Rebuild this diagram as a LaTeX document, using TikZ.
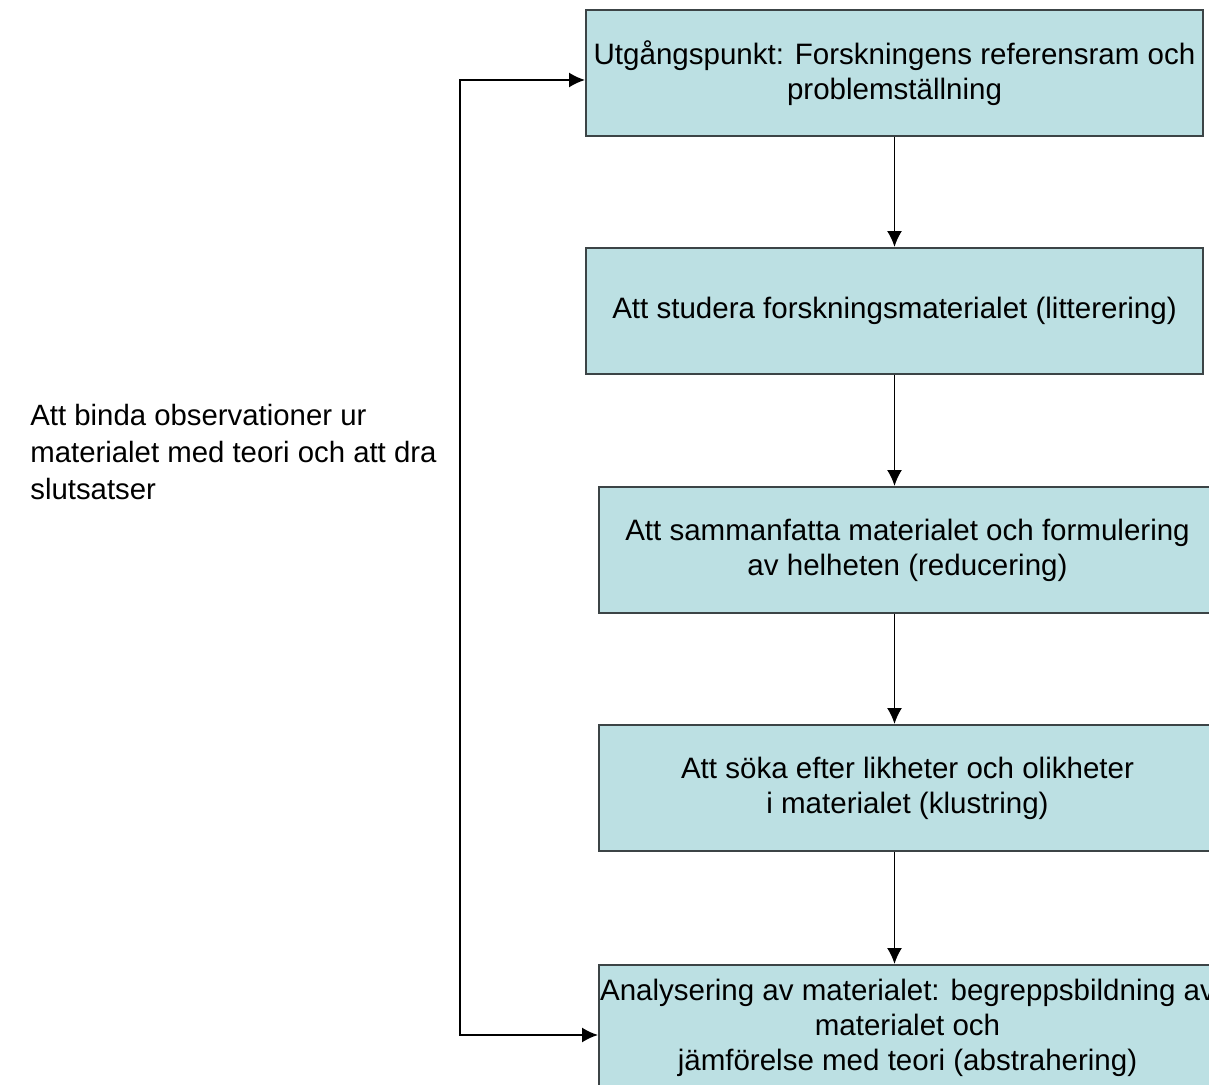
\documentclass[tikz,border=0pt]{standalone}
\usepackage{fontspec}
\setmainfont{Liberation Sans}
\usetikzlibrary{arrows.meta,positioning}
\definecolor{StepFill}{HTML}{BCE0E3}
\definecolor{StepLine}{HTML}{3C4446}

\tikzset{
  stepbox/.style={draw=StepLine,line width=1.1pt,fill=StepFill,
    minimum width=12.34cm,minimum height=2.52cm,align=center,
    inner sep=0pt,font=\fontsize{16.8}{20}\selectfont},
  flow/.style={-{Latex[length=3.2mm,width=3mm]},line width=1.1pt,black},
}

\begin{document}
\begin{tikzpicture}
		\clip (0,0) rectangle (24.18,21.7);
		\fill[white] (0,0) rectangle (24.18,21.7);
		% steps of the analysis
		\node[stepbox] (start) at (17.89,20.24) {Utgångspunkt: Forskningens referensram och\\problemställning};
		\node[stepbox] (litt) at (17.89,15.48) {Att studera forskningsmaterialet (litterering)};
		\node[stepbox] (red) at (18.15,10.70) {Att sammanfatta materialet och formulering\\av helheten (reducering)};
		\node[stepbox] (klus) at (18.15,5.94) {Att söka efter likheter och olikheter\\i materialet (klustring)};
		\node[stepbox] (abst) at (18.15,1.14) {Analysering av materialet: begreppsbildning av\\materialet och\\jämförelse med teori (abstrahering)};
		% arrows between the steps
		\draw[flow] (start.south) -- (litt.north);
		\draw[flow] (litt.south) -- (litt.south |- red.north);
		\draw[flow] (litt.south |- red.south) -- (litt.south |- klus.north);
		\draw[flow] (litt.south |- klus.south) -- (litt.south |- abst.north);
		% feedback loop
		\coordinate (loop) at (9.2,20.10);
		\draw[flow,{Latex[length=3.2mm,width=3mm]}-{Latex[length=3.2mm,width=3mm]}]
			([yshift=-1.4mm]abst.west) -| (loop) -- ([yshift=-1.4mm]start.west);
		\node[anchor=west,align=left,inner sep=0pt,font=\fontsize{16.7}{20.8}\selectfont] (bind) at (0.6,12.66)
			{Att binda observationer ur\\materialet med teori och att dra\\slutsatser};
	\end{tikzpicture}
\end{document}
